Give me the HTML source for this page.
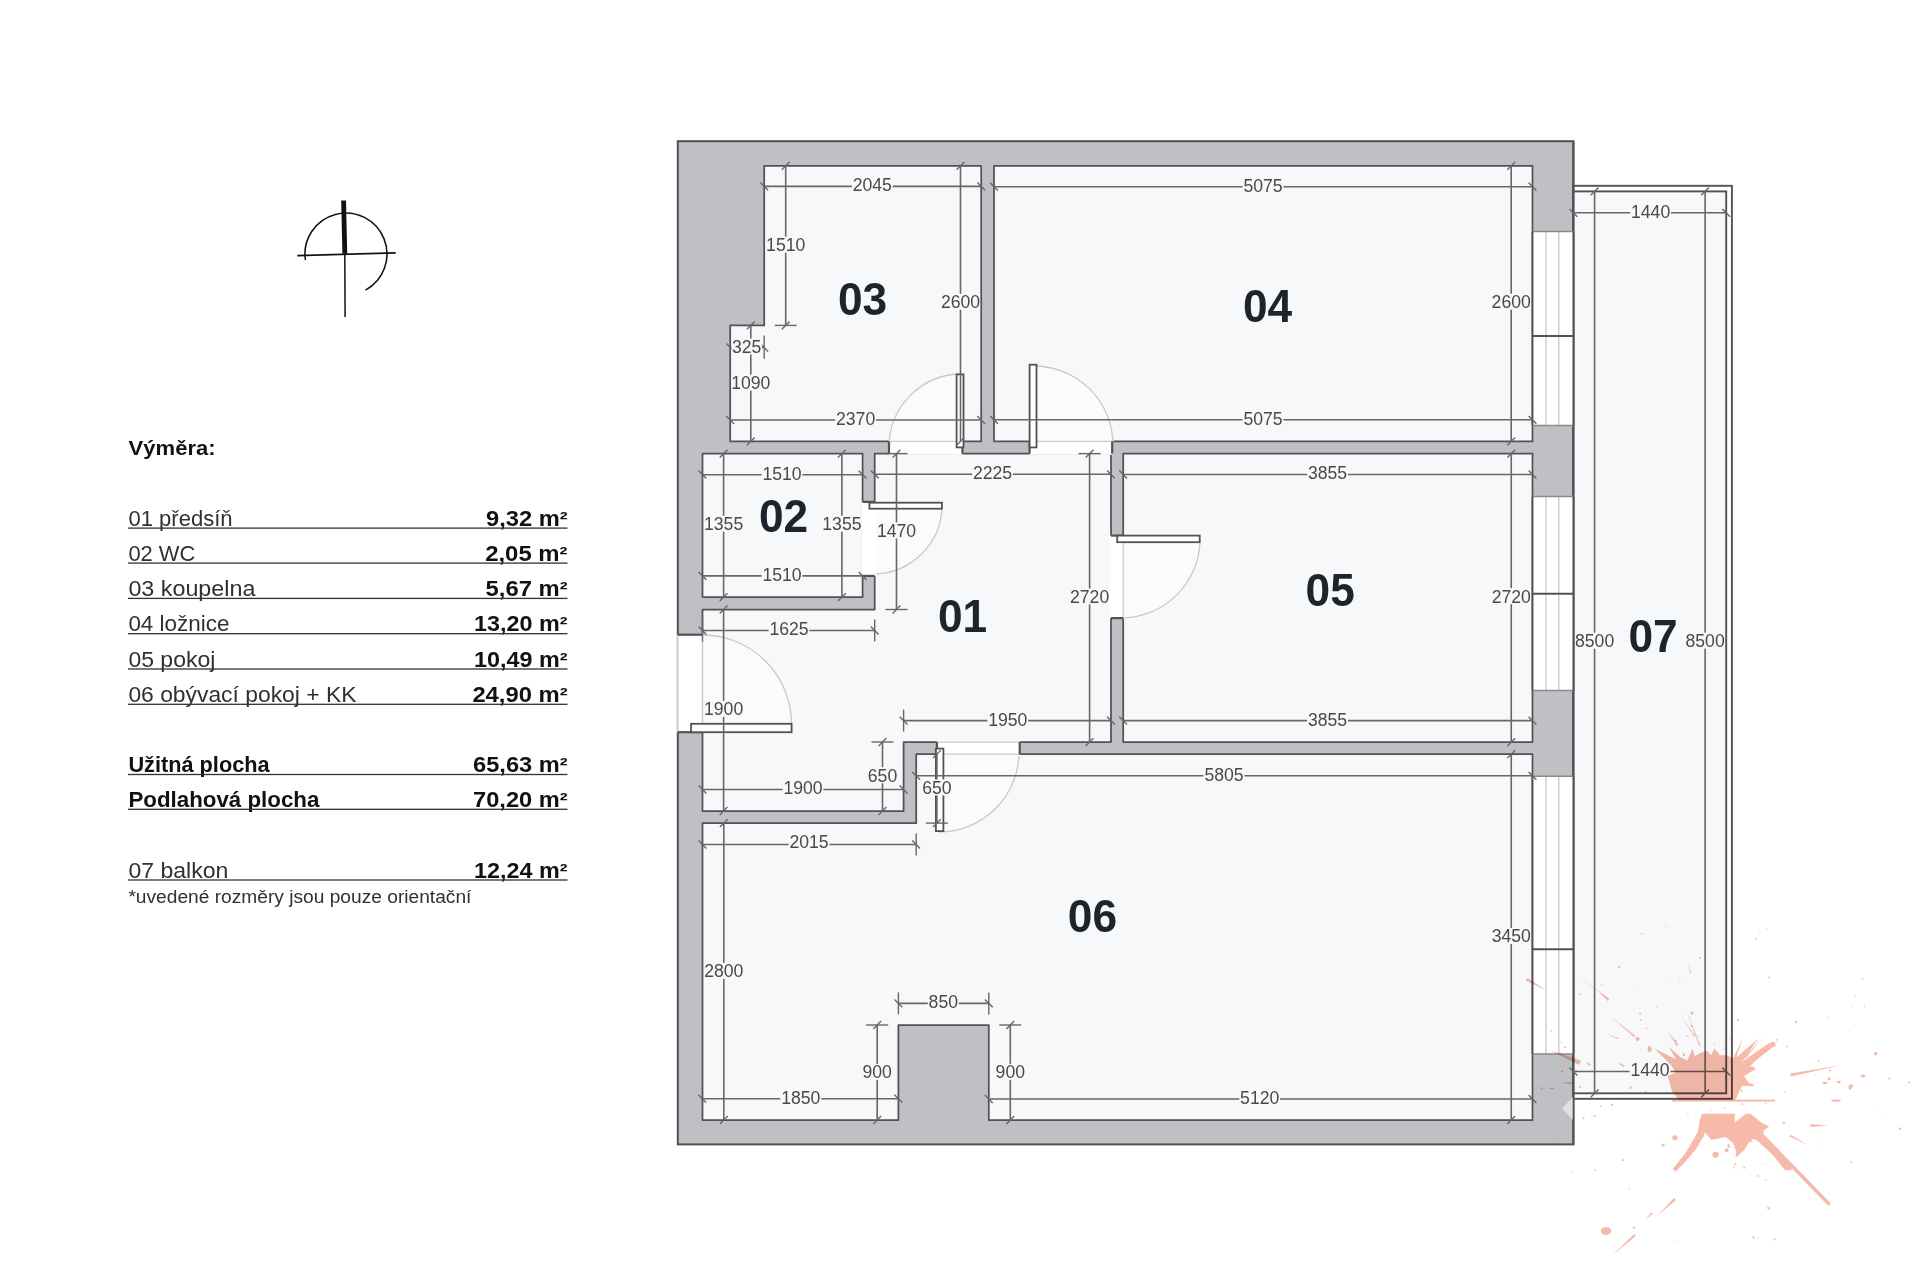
<!DOCTYPE html>
<html><head><meta charset="utf-8"><style>
html,body{margin:0;padding:0;background:#fff;}
body{width:1920px;height:1280px;overflow:hidden;position:relative;font-family:"Liberation Sans",sans-serif;}
svg{position:absolute;left:0;top:0;}
.t{position:absolute;left:128px;width:439px;color:#1a1a1a;font-size:21px;}
.row{position:absolute;left:128px;width:439px;height:2px;background:#2a2a2a;}
.l{position:absolute;left:128px;white-space:nowrap;font-size:21px;line-height:1;color:#1a1a1a;}
.r{position:absolute;right:1353px;white-space:nowrap;font-size:21px;line-height:1;font-weight:bold;color:#1a1a1a;}
.b{font-weight:bold;}
</style></head><body>
<svg width="1920" height="1280" viewBox="0 0 1920 1280" font-family="Liberation Sans, sans-serif">
<rect x="677.8" y="141.2" width="895.6" height="1003.2" fill="#bfc0c4" stroke="#505255" stroke-width="2.0"/>
<rect x="1573.4" y="185.8" width="158.5" height="913.0" fill="#ffffff" stroke="#505255" stroke-width="1.9"/>
<rect x="1573.4" y="191.4" width="152.8" height="901.9" fill="#f7f8fa" stroke="#505255" stroke-width="1.9"/>
<line x1="1573.4" y1="141.2" x2="1573.4" y2="1144.4" stroke="#505255" stroke-width="2.0"/>
<polygon points="764.2,165.8 981.2,165.8 981.2,441.4 730.2,441.4 730.2,325.4 764.2,325.4" fill="#f7f8fa" stroke="#505255" stroke-width="1.75" stroke-linejoin="round"/>
<polygon points="994,165.8 1532.5,165.8 1532.5,441.4 994,441.4" fill="#f7f8fa" stroke="#505255" stroke-width="1.75" stroke-linejoin="round"/>
<polygon points="702.5,453.6 862.6,453.6 862.6,597.1 702.5,597.1" fill="#f7f8fa" stroke="#505255" stroke-width="1.75" stroke-linejoin="round"/>
<polygon points="1123.2,453.6 1532.5,453.6 1532.5,742.1 1123.2,742.1" fill="#f7f8fa" stroke="#505255" stroke-width="1.75" stroke-linejoin="round"/>
<polygon points="874.7,453.6 1111,453.6 1111,742.1 903.6,742.1 903.6,811 702.5,811 702.5,609.5 874.7,609.5" fill="#f7f8fa" stroke="#505255" stroke-width="1.75" stroke-linejoin="round"/>
<polygon points="916.2,754.2 1532.5,754.2 1532.5,1120 988.8,1120 988.8,1025 898.4,1025 898.4,1120 702.5,1120 702.5,823.2 916.2,823.2" fill="#f7f8fa" stroke="#505255" stroke-width="1.75" stroke-linejoin="round"/>
<path d="M962,447 L889.00,447.00 A73,73 0 0 1 962.00,374.00 Z" fill="#fbfbfc" stroke="none"/>
<path d="M889.00,447.00 A73,73 0 0 1 962.00,374.00" fill="none" stroke="#c9c9c9" stroke-width="1.3"/>
<path d="M1034,445 L1034.00,366.00 A79,79 0 0 1 1113.00,445.00 Z" fill="#fbfbfc" stroke="none"/>
<path d="M1034.00,366.00 A79,79 0 0 1 1113.00,445.00" fill="none" stroke="#c9c9c9" stroke-width="1.3"/>
<path d="M873,505 L942.00,505.00 A69,69 0 0 1 873.00,574.00 Z" fill="#fbfbfc" stroke="none"/>
<path d="M942.00,505.00 A69,69 0 0 1 873.00,574.00" fill="none" stroke="#c9c9c9" stroke-width="1.3"/>
<path d="M1121,539 L1200.00,539.00 A79,79 0 0 1 1121.00,618.00 Z" fill="#fbfbfc" stroke="none"/>
<path d="M1200.00,539.00 A79,79 0 0 1 1121.00,618.00" fill="none" stroke="#c9c9c9" stroke-width="1.3"/>
<path d="M702.5,724 L702.50,635.00 A89,89 0 0 1 791.50,724.00 Z" fill="#fbfbfc" stroke="none"/>
<path d="M702.50,635.00 A89,89 0 0 1 791.50,724.00" fill="none" stroke="#c9c9c9" stroke-width="1.3"/>
<path d="M939,752 L1019.00,752.00 A80,80 0 0 1 939.00,832.00 Z" fill="#fbfbfc" stroke="none"/>
<path d="M1019.00,752.00 A80,80 0 0 1 939.00,832.00" fill="none" stroke="#c9c9c9" stroke-width="1.3"/>
<rect x="889" y="440.2" width="73.4" height="14.6" fill="#ffffff"/>
<line x1="889" y1="441.4" x2="956.6" y2="441.4" stroke="#c9c9c9" stroke-width="1.2"/>
<rect x="1029.6" y="440.2" width="82.6" height="14.6" fill="#ffffff"/>
<line x1="1036.5" y1="441.4" x2="1112.2" y2="441.4" stroke="#c9c9c9" stroke-width="1.2"/>
<rect x="861.4" y="501.9" width="14.5" height="74.0" fill="#ffffff"/>
<rect x="1109.8" y="535.6" width="14.6" height="82.5" fill="#ffffff"/>
<line x1="1123.2" y1="542.2" x2="1123.2" y2="618.1" stroke="#c9c9c9" stroke-width="1.2"/>
<rect x="676.5" y="634.7" width="27.2" height="97.5" fill="#ffffff"/>
<line x1="677.7" y1="634.7" x2="677.7" y2="732.2" stroke="#c9c9c9" stroke-width="1.5"/>
<line x1="702.5" y1="634.7" x2="702.5" y2="724" stroke="#c9c9c9" stroke-width="1.5"/>
<rect x="936.9" y="740.9" width="82.8" height="14.5" fill="#ffffff"/>
<line x1="936.9" y1="742.1" x2="1019.7" y2="742.1" stroke="#c9c9c9" stroke-width="1.2"/>
<line x1="943.4" y1="754.2" x2="1019.7" y2="754.2" stroke="#c9c9c9" stroke-width="1.2"/>
<line x1="889" y1="441.4" x2="889" y2="453.6" stroke="#505255" stroke-width="2.2"/>
<line x1="962.4" y1="441.4" x2="962.4" y2="453.6" stroke="#505255" stroke-width="2.2"/>
<line x1="1029.6" y1="441.4" x2="1029.6" y2="453.6" stroke="#505255" stroke-width="2.2"/>
<line x1="1112.2" y1="441.4" x2="1112.2" y2="453.6" stroke="#505255" stroke-width="2.2"/>
<line x1="862.6" y1="501.9" x2="874.7" y2="501.9" stroke="#505255" stroke-width="2.2"/>
<line x1="862.6" y1="575.9" x2="874.7" y2="575.9" stroke="#505255" stroke-width="2.2"/>
<line x1="1111" y1="535.6" x2="1123.2" y2="535.6" stroke="#505255" stroke-width="2.2"/>
<line x1="1111" y1="618.1" x2="1123.2" y2="618.1" stroke="#505255" stroke-width="2.2"/>
<line x1="677.7" y1="634.7" x2="702.5" y2="634.7" stroke="#505255" stroke-width="2.2"/>
<line x1="677.7" y1="732.2" x2="702.5" y2="732.2" stroke="#505255" stroke-width="2.2"/>
<line x1="936.9" y1="742.1" x2="936.9" y2="754.2" stroke="#505255" stroke-width="2.2"/>
<line x1="1019.7" y1="742.1" x2="1019.7" y2="754.2" stroke="#505255" stroke-width="2.2"/>
<rect x="1532.5" y="231.6" width="40.9" height="193.8" fill="#ffffff"/>
<line x1="1546.0" y1="231.6" x2="1546.0" y2="425.4" stroke="#c9c9c9" stroke-width="1.3"/>
<line x1="1558.8" y1="231.6" x2="1558.8" y2="425.4" stroke="#c9c9c9" stroke-width="1.3"/>
<line x1="1532.5" y1="231.6" x2="1573.4" y2="231.6" stroke="#8a8a8a" stroke-width="1.5"/>
<line x1="1532.5" y1="425.4" x2="1573.4" y2="425.4" stroke="#8a8a8a" stroke-width="1.5"/>
<line x1="1532.5" y1="336.1" x2="1573.4" y2="336.1" stroke="#505255" stroke-width="2"/>
<line x1="1532.5" y1="231.6" x2="1532.5" y2="425.4" stroke="#505255" stroke-width="1.9"/>
<line x1="1573.4" y1="231.6" x2="1573.4" y2="425.4" stroke="#505255" stroke-width="1.9"/>
<rect x="1532.5" y="496.6" width="40.9" height="193.9" fill="#ffffff"/>
<line x1="1546.0" y1="496.6" x2="1546.0" y2="690.5" stroke="#c9c9c9" stroke-width="1.3"/>
<line x1="1558.8" y1="496.6" x2="1558.8" y2="690.5" stroke="#c9c9c9" stroke-width="1.3"/>
<line x1="1532.5" y1="496.6" x2="1573.4" y2="496.6" stroke="#8a8a8a" stroke-width="1.5"/>
<line x1="1532.5" y1="690.5" x2="1573.4" y2="690.5" stroke="#8a8a8a" stroke-width="1.5"/>
<line x1="1532.5" y1="593.75" x2="1573.4" y2="593.75" stroke="#505255" stroke-width="2"/>
<line x1="1532.5" y1="496.6" x2="1532.5" y2="690.5" stroke="#505255" stroke-width="1.9"/>
<line x1="1573.4" y1="496.6" x2="1573.4" y2="690.5" stroke="#505255" stroke-width="1.9"/>
<rect x="1532.5" y="776.25" width="40.9" height="277.75" fill="#ffffff"/>
<line x1="1546.0" y1="776.25" x2="1546.0" y2="1054" stroke="#c9c9c9" stroke-width="1.3"/>
<line x1="1558.8" y1="776.25" x2="1558.8" y2="1054" stroke="#c9c9c9" stroke-width="1.3"/>
<line x1="1532.5" y1="776.25" x2="1573.4" y2="776.25" stroke="#8a8a8a" stroke-width="1.5"/>
<line x1="1532.5" y1="1054" x2="1573.4" y2="1054" stroke="#8a8a8a" stroke-width="1.5"/>
<line x1="1532.5" y1="949.25" x2="1573.4" y2="949.25" stroke="#505255" stroke-width="2"/>
<line x1="1532.5" y1="776.25" x2="1532.5" y2="1054" stroke="#505255" stroke-width="1.9"/>
<line x1="1573.4" y1="776.25" x2="1573.4" y2="1054" stroke="#505255" stroke-width="1.9"/>
<rect x="956.6" y="374.4" width="6.9" height="73.0" fill="#ffffff" stroke="#505255" stroke-width="1.8"/>
<rect x="1029.6" y="364.7" width="6.9" height="82.7" fill="#ffffff" stroke="#505255" stroke-width="1.8"/>
<rect x="869.4" y="502.7" width="72.5" height="6.0" fill="#ffffff" stroke="#505255" stroke-width="1.8"/>
<rect x="1117.2" y="535.6" width="82.5" height="6.6" fill="#ffffff" stroke="#505255" stroke-width="1.8"/>
<rect x="691.1" y="723.8" width="100.5" height="8.4" fill="#ffffff" stroke="#505255" stroke-width="1.8"/>
<rect x="935.9" y="748.6" width="7.5" height="82.5" fill="#ffffff" stroke="#505255" stroke-width="1.8"/>
<line x1="764.2" y1="186.4" x2="981.2" y2="186.4" stroke="#666769" stroke-width="1.6"/>
<line x1="760.3" y1="182.5" x2="768.1" y2="190.3" stroke="#666769" stroke-width="1.4"/>
<line x1="977.3" y1="182.5" x2="985.1" y2="190.3" stroke="#666769" stroke-width="1.4"/>
<rect x="851.9" y="176.8" width="40.8" height="16.0" fill="#f7f8fa"/>
<text x="872.3" y="191.30" font-size="18" text-anchor="middle" fill="#48494b" textLength="39.2" lengthAdjust="spacingAndGlyphs">2045</text>
<line x1="994" y1="186.7" x2="1532.5" y2="186.7" stroke="#666769" stroke-width="1.6"/>
<line x1="990.1" y1="182.8" x2="997.9" y2="190.6" stroke="#666769" stroke-width="1.4"/>
<line x1="1528.6" y1="182.8" x2="1536.4" y2="190.6" stroke="#666769" stroke-width="1.4"/>
<rect x="1242.6" y="177.1" width="40.8" height="16.0" fill="#f7f8fa"/>
<text x="1263" y="191.60" font-size="18" text-anchor="middle" fill="#48494b" textLength="39.2" lengthAdjust="spacingAndGlyphs">5075</text>
<line x1="1573.4" y1="212.8" x2="1726.2" y2="212.8" stroke="#666769" stroke-width="1.6"/>
<line x1="1569.5" y1="208.9" x2="1577.3" y2="216.7" stroke="#666769" stroke-width="1.4"/>
<line x1="1722.3" y1="208.9" x2="1730.1" y2="216.7" stroke="#666769" stroke-width="1.4"/>
<rect x="1630.2" y="203.2" width="40.8" height="16.0" fill="#f7f8fa"/>
<text x="1650.6" y="217.70" font-size="18" text-anchor="middle" fill="#48494b" textLength="39.2" lengthAdjust="spacingAndGlyphs">1440</text>
<line x1="730.2" y1="420" x2="981.2" y2="420" stroke="#666769" stroke-width="1.6"/>
<line x1="726.3" y1="416.1" x2="734.1" y2="423.9" stroke="#666769" stroke-width="1.4"/>
<line x1="977.3" y1="416.1" x2="985.1" y2="423.9" stroke="#666769" stroke-width="1.4"/>
<rect x="835.2" y="410.4" width="40.8" height="16.0" fill="#f7f8fa"/>
<text x="855.6" y="424.90" font-size="18" text-anchor="middle" fill="#48494b" textLength="39.2" lengthAdjust="spacingAndGlyphs">2370</text>
<line x1="994" y1="419.8" x2="1532.5" y2="419.8" stroke="#666769" stroke-width="1.6"/>
<line x1="990.1" y1="415.9" x2="997.9" y2="423.7" stroke="#666769" stroke-width="1.4"/>
<line x1="1528.6" y1="415.9" x2="1536.4" y2="423.7" stroke="#666769" stroke-width="1.4"/>
<rect x="1242.6" y="410.2" width="40.8" height="16.0" fill="#f7f8fa"/>
<text x="1263" y="424.70" font-size="18" text-anchor="middle" fill="#48494b" textLength="39.2" lengthAdjust="spacingAndGlyphs">5075</text>
<line x1="702.5" y1="474.7" x2="862.6" y2="474.7" stroke="#666769" stroke-width="1.6"/>
<line x1="698.6" y1="470.8" x2="706.4" y2="478.6" stroke="#666769" stroke-width="1.4"/>
<line x1="858.7" y1="470.8" x2="866.5" y2="478.6" stroke="#666769" stroke-width="1.4"/>
<rect x="761.6" y="465.1" width="40.8" height="16.0" fill="#f7f8fa"/>
<text x="782" y="479.60" font-size="18" text-anchor="middle" fill="#48494b" textLength="39.2" lengthAdjust="spacingAndGlyphs">1510</text>
<line x1="874.7" y1="474.3" x2="1111" y2="474.3" stroke="#666769" stroke-width="1.6"/>
<line x1="870.8" y1="470.4" x2="878.6" y2="478.2" stroke="#666769" stroke-width="1.4"/>
<line x1="1107.1" y1="470.4" x2="1114.9" y2="478.2" stroke="#666769" stroke-width="1.4"/>
<rect x="972.1" y="464.7" width="40.8" height="16.0" fill="#f7f8fa"/>
<text x="992.5" y="479.20" font-size="18" text-anchor="middle" fill="#48494b" textLength="39.2" lengthAdjust="spacingAndGlyphs">2225</text>
<line x1="1123.2" y1="474.5" x2="1532.5" y2="474.5" stroke="#666769" stroke-width="1.6"/>
<line x1="1119.3" y1="470.6" x2="1127.1" y2="478.4" stroke="#666769" stroke-width="1.4"/>
<line x1="1528.6" y1="470.6" x2="1536.4" y2="478.4" stroke="#666769" stroke-width="1.4"/>
<rect x="1307.1" y="464.9" width="40.8" height="16.0" fill="#f7f8fa"/>
<text x="1327.5" y="479.40" font-size="18" text-anchor="middle" fill="#48494b" textLength="39.2" lengthAdjust="spacingAndGlyphs">3855</text>
<line x1="702.5" y1="575.9" x2="862.6" y2="575.9" stroke="#666769" stroke-width="1.6"/>
<line x1="698.6" y1="572.0" x2="706.4" y2="579.8" stroke="#666769" stroke-width="1.4"/>
<line x1="858.7" y1="572.0" x2="866.5" y2="579.8" stroke="#666769" stroke-width="1.4"/>
<rect x="761.6" y="566.3" width="40.8" height="16.0" fill="#f7f8fa"/>
<text x="782" y="580.80" font-size="18" text-anchor="middle" fill="#48494b" textLength="39.2" lengthAdjust="spacingAndGlyphs">1510</text>
<line x1="702.5" y1="630.5" x2="874.7" y2="630.5" stroke="#666769" stroke-width="1.6"/>
<line x1="698.6" y1="626.6" x2="706.4" y2="634.4" stroke="#666769" stroke-width="1.4"/>
<line x1="870.8" y1="626.6" x2="878.6" y2="634.4" stroke="#666769" stroke-width="1.4"/>
<line x1="702.5" y1="619.5" x2="702.5" y2="641.5" stroke="#666769" stroke-width="1.4"/>
<line x1="874.7" y1="619.5" x2="874.7" y2="641.5" stroke="#666769" stroke-width="1.4"/>
<rect x="768.6" y="620.9" width="40.8" height="16.0" fill="#f7f8fa"/>
<text x="789" y="635.40" font-size="18" text-anchor="middle" fill="#48494b" textLength="39.2" lengthAdjust="spacingAndGlyphs">1625</text>
<line x1="903.6" y1="720.6" x2="1111" y2="720.6" stroke="#666769" stroke-width="1.6"/>
<line x1="899.7" y1="716.7" x2="907.5" y2="724.5" stroke="#666769" stroke-width="1.4"/>
<line x1="1107.1" y1="716.7" x2="1114.9" y2="724.5" stroke="#666769" stroke-width="1.4"/>
<line x1="903.6" y1="709.6" x2="903.6" y2="731.6" stroke="#666769" stroke-width="1.4"/>
<rect x="987.4" y="711.0" width="40.8" height="16.0" fill="#f7f8fa"/>
<text x="1007.8" y="725.50" font-size="18" text-anchor="middle" fill="#48494b" textLength="39.2" lengthAdjust="spacingAndGlyphs">1950</text>
<line x1="1123.2" y1="720.6" x2="1532.5" y2="720.6" stroke="#666769" stroke-width="1.6"/>
<line x1="1119.3" y1="716.7" x2="1127.1" y2="724.5" stroke="#666769" stroke-width="1.4"/>
<line x1="1528.6" y1="716.7" x2="1536.4" y2="724.5" stroke="#666769" stroke-width="1.4"/>
<rect x="1307.1" y="711.0" width="40.8" height="16.0" fill="#f7f8fa"/>
<text x="1327.5" y="725.50" font-size="18" text-anchor="middle" fill="#48494b" textLength="39.2" lengthAdjust="spacingAndGlyphs">3855</text>
<line x1="916.2" y1="775.8" x2="1532.5" y2="775.8" stroke="#666769" stroke-width="1.6"/>
<line x1="912.3" y1="771.9" x2="920.1" y2="779.7" stroke="#666769" stroke-width="1.4"/>
<line x1="1528.6" y1="771.9" x2="1536.4" y2="779.7" stroke="#666769" stroke-width="1.4"/>
<rect x="1203.6" y="766.2" width="40.8" height="16.0" fill="#f7f8fa"/>
<text x="1224" y="780.70" font-size="18" text-anchor="middle" fill="#48494b" textLength="39.2" lengthAdjust="spacingAndGlyphs">5805</text>
<line x1="702.5" y1="789.5" x2="903.6" y2="789.5" stroke="#666769" stroke-width="1.6"/>
<line x1="698.6" y1="785.6" x2="706.4" y2="793.4" stroke="#666769" stroke-width="1.4"/>
<line x1="899.7" y1="785.6" x2="907.5" y2="793.4" stroke="#666769" stroke-width="1.4"/>
<rect x="782.6" y="779.9" width="40.8" height="16.0" fill="#f7f8fa"/>
<text x="803" y="794.40" font-size="18" text-anchor="middle" fill="#48494b" textLength="39.2" lengthAdjust="spacingAndGlyphs">1900</text>
<line x1="702.5" y1="844.5" x2="916.2" y2="844.5" stroke="#666769" stroke-width="1.6"/>
<line x1="698.6" y1="840.6" x2="706.4" y2="848.4" stroke="#666769" stroke-width="1.4"/>
<line x1="912.3" y1="840.6" x2="920.1" y2="848.4" stroke="#666769" stroke-width="1.4"/>
<line x1="916.2" y1="833.5" x2="916.2" y2="855.5" stroke="#666769" stroke-width="1.4"/>
<rect x="788.6" y="833.2" width="40.8" height="16.0" fill="#f7f8fa"/>
<text x="809" y="847.70" font-size="18" text-anchor="middle" fill="#48494b" textLength="39.2" lengthAdjust="spacingAndGlyphs">2015</text>
<line x1="898.4" y1="1003.4" x2="988.8" y2="1003.4" stroke="#666769" stroke-width="1.6"/>
<line x1="894.5" y1="999.5" x2="902.3" y2="1007.3" stroke="#666769" stroke-width="1.4"/>
<line x1="984.9" y1="999.5" x2="992.7" y2="1007.3" stroke="#666769" stroke-width="1.4"/>
<line x1="898.4" y1="992.4" x2="898.4" y2="1014.4" stroke="#666769" stroke-width="1.4"/>
<line x1="988.8" y1="992.4" x2="988.8" y2="1014.4" stroke="#666769" stroke-width="1.4"/>
<rect x="927.8" y="993.8" width="31.0" height="16.0" fill="#f7f8fa"/>
<text x="943.3" y="1008.30" font-size="18" text-anchor="middle" fill="#48494b" textLength="29.4" lengthAdjust="spacingAndGlyphs">850</text>
<line x1="702.2" y1="1098.7" x2="898.4" y2="1098.7" stroke="#666769" stroke-width="1.6"/>
<line x1="698.3" y1="1094.8" x2="706.1" y2="1102.6" stroke="#666769" stroke-width="1.4"/>
<line x1="894.5" y1="1094.8" x2="902.3" y2="1102.6" stroke="#666769" stroke-width="1.4"/>
<rect x="780.4" y="1089.1" width="40.8" height="16.0" fill="#f7f8fa"/>
<text x="800.8" y="1103.60" font-size="18" text-anchor="middle" fill="#48494b" textLength="39.2" lengthAdjust="spacingAndGlyphs">1850</text>
<line x1="988.8" y1="1099" x2="1532.5" y2="1099" stroke="#666769" stroke-width="1.6"/>
<line x1="984.9" y1="1095.1" x2="992.7" y2="1102.9" stroke="#666769" stroke-width="1.4"/>
<line x1="1528.6" y1="1095.1" x2="1536.4" y2="1102.9" stroke="#666769" stroke-width="1.4"/>
<rect x="1239.3" y="1089.4" width="40.8" height="16.0" fill="#f7f8fa"/>
<text x="1259.7" y="1103.90" font-size="18" text-anchor="middle" fill="#48494b" textLength="39.2" lengthAdjust="spacingAndGlyphs">5120</text>
<line x1="1573.4" y1="1071.5" x2="1726.2" y2="1071.5" stroke="#666769" stroke-width="1.6"/>
<line x1="1569.5" y1="1067.6" x2="1577.3" y2="1075.4" stroke="#666769" stroke-width="1.4"/>
<line x1="1722.3" y1="1067.6" x2="1730.1" y2="1075.4" stroke="#666769" stroke-width="1.4"/>
<rect x="1629.6" y="1061.9" width="40.8" height="16.0" fill="#f7f8fa"/>
<text x="1650" y="1076.40" font-size="18" text-anchor="middle" fill="#48494b" textLength="39.2" lengthAdjust="spacingAndGlyphs">1440</text>
<line x1="785.7" y1="165.8" x2="785.7" y2="325.4" stroke="#666769" stroke-width="1.6"/>
<line x1="781.8" y1="169.7" x2="789.6" y2="161.9" stroke="#666769" stroke-width="1.4"/>
<line x1="781.8" y1="329.3" x2="789.6" y2="321.5" stroke="#666769" stroke-width="1.4"/>
<line x1="774.7" y1="325.4" x2="796.7" y2="325.4" stroke="#666769" stroke-width="1.4"/>
<rect x="766.1" y="236.7" width="39.2" height="16.0" fill="#f7f8fa"/>
<text x="785.7" y="251.20" font-size="18" text-anchor="middle" fill="#48494b" textLength="39.2" lengthAdjust="spacingAndGlyphs">1510</text>
<line x1="960.5" y1="165.8" x2="960.5" y2="441.4" stroke="#666769" stroke-width="1.6"/>
<line x1="956.6" y1="169.7" x2="964.4" y2="161.9" stroke="#666769" stroke-width="1.4"/>
<line x1="956.6" y1="445.3" x2="964.4" y2="437.5" stroke="#666769" stroke-width="1.4"/>
<rect x="940.9" y="293.8" width="39.2" height="16.0" fill="#f7f8fa"/>
<text x="960.5" y="308.30" font-size="18" text-anchor="middle" fill="#48494b" textLength="39.2" lengthAdjust="spacingAndGlyphs">2600</text>
<line x1="1511.2" y1="165.8" x2="1511.2" y2="441.4" stroke="#666769" stroke-width="1.6"/>
<line x1="1507.3" y1="169.7" x2="1515.1" y2="161.9" stroke="#666769" stroke-width="1.4"/>
<line x1="1507.3" y1="445.3" x2="1515.1" y2="437.5" stroke="#666769" stroke-width="1.4"/>
<rect x="1491.6" y="293.7" width="39.2" height="16.0" fill="#f7f8fa"/>
<text x="1511.2" y="308.20" font-size="18" text-anchor="middle" fill="#48494b" textLength="39.2" lengthAdjust="spacingAndGlyphs">2600</text>
<line x1="750.8" y1="325.4" x2="750.8" y2="441.4" stroke="#666769" stroke-width="1.6"/>
<line x1="746.9" y1="329.3" x2="754.7" y2="321.5" stroke="#666769" stroke-width="1.4"/>
<line x1="746.9" y1="445.3" x2="754.7" y2="437.5" stroke="#666769" stroke-width="1.4"/>
<rect x="731.2" y="374.6" width="39.2" height="16.0" fill="#f7f8fa"/>
<text x="750.8" y="389.10" font-size="18" text-anchor="middle" fill="#48494b" textLength="39.2" lengthAdjust="spacingAndGlyphs">1090</text>
<line x1="723.6" y1="453.6" x2="723.6" y2="597.1" stroke="#666769" stroke-width="1.6"/>
<line x1="719.7" y1="457.5" x2="727.5" y2="449.7" stroke="#666769" stroke-width="1.4"/>
<line x1="719.7" y1="601.0" x2="727.5" y2="593.2" stroke="#666769" stroke-width="1.4"/>
<rect x="704.0" y="515.7" width="39.2" height="16.0" fill="#f7f8fa"/>
<text x="723.6" y="530.20" font-size="18" text-anchor="middle" fill="#48494b" textLength="39.2" lengthAdjust="spacingAndGlyphs">1355</text>
<line x1="841.9" y1="453.6" x2="841.9" y2="597.1" stroke="#666769" stroke-width="1.6"/>
<line x1="838.0" y1="457.5" x2="845.8" y2="449.7" stroke="#666769" stroke-width="1.4"/>
<line x1="838.0" y1="601.0" x2="845.8" y2="593.2" stroke="#666769" stroke-width="1.4"/>
<rect x="822.3" y="515.7" width="39.2" height="16.0" fill="#f7f8fa"/>
<text x="841.9" y="530.20" font-size="18" text-anchor="middle" fill="#48494b" textLength="39.2" lengthAdjust="spacingAndGlyphs">1355</text>
<line x1="896.5" y1="453.6" x2="896.5" y2="609.5" stroke="#666769" stroke-width="1.6"/>
<line x1="892.6" y1="457.5" x2="900.4" y2="449.7" stroke="#666769" stroke-width="1.4"/>
<line x1="892.6" y1="613.4" x2="900.4" y2="605.6" stroke="#666769" stroke-width="1.4"/>
<line x1="885.5" y1="453.6" x2="907.5" y2="453.6" stroke="#666769" stroke-width="1.4"/>
<line x1="885.5" y1="609.5" x2="907.5" y2="609.5" stroke="#666769" stroke-width="1.4"/>
<rect x="876.9" y="522.5" width="39.2" height="16.0" fill="#f7f8fa"/>
<text x="896.5" y="537.00" font-size="18" text-anchor="middle" fill="#48494b" textLength="39.2" lengthAdjust="spacingAndGlyphs">1470</text>
<line x1="1089.6" y1="453.6" x2="1089.6" y2="742.1" stroke="#666769" stroke-width="1.6"/>
<line x1="1085.7" y1="457.5" x2="1093.5" y2="449.7" stroke="#666769" stroke-width="1.4"/>
<line x1="1085.7" y1="746.0" x2="1093.5" y2="738.2" stroke="#666769" stroke-width="1.4"/>
<line x1="1078.6" y1="453.6" x2="1100.6" y2="453.6" stroke="#666769" stroke-width="1.4"/>
<rect x="1070.0" y="588.5" width="39.2" height="16.0" fill="#f7f8fa"/>
<text x="1089.6" y="603.00" font-size="18" text-anchor="middle" fill="#48494b" textLength="39.2" lengthAdjust="spacingAndGlyphs">2720</text>
<line x1="1511.25" y1="453.6" x2="1511.25" y2="742.1" stroke="#666769" stroke-width="1.6"/>
<line x1="1507.35" y1="457.5" x2="1515.15" y2="449.7" stroke="#666769" stroke-width="1.4"/>
<line x1="1507.35" y1="746.0" x2="1515.15" y2="738.2" stroke="#666769" stroke-width="1.4"/>
<rect x="1491.65" y="588.2" width="39.2" height="16.0" fill="#f7f8fa"/>
<text x="1511.25" y="602.70" font-size="18" text-anchor="middle" fill="#48494b" textLength="39.2" lengthAdjust="spacingAndGlyphs">2720</text>
<line x1="723.6" y1="609.5" x2="723.6" y2="811" stroke="#666769" stroke-width="1.6"/>
<line x1="719.7" y1="613.4" x2="727.5" y2="605.6" stroke="#666769" stroke-width="1.4"/>
<line x1="719.7" y1="814.9" x2="727.5" y2="807.1" stroke="#666769" stroke-width="1.4"/>
<rect x="704.0" y="700.9" width="39.2" height="16.0" fill="#f7f8fa"/>
<text x="723.6" y="715.40" font-size="18" text-anchor="middle" fill="#48494b" textLength="39.2" lengthAdjust="spacingAndGlyphs">1900</text>
<line x1="882.5" y1="742" x2="882.5" y2="811" stroke="#666769" stroke-width="1.6"/>
<line x1="878.6" y1="745.9" x2="886.4" y2="738.1" stroke="#666769" stroke-width="1.4"/>
<line x1="878.6" y1="814.9" x2="886.4" y2="807.1" stroke="#666769" stroke-width="1.4"/>
<line x1="871.5" y1="742" x2="893.5" y2="742" stroke="#666769" stroke-width="1.4"/>
<rect x="867.8" y="767.2" width="29.4" height="16.0" fill="#f7f8fa"/>
<text x="882.5" y="781.70" font-size="18" text-anchor="middle" fill="#48494b" textLength="29.4" lengthAdjust="spacingAndGlyphs">650</text>
<line x1="936.9" y1="754.2" x2="936.9" y2="823.1" stroke="#666769" stroke-width="1.6"/>
<line x1="933.0" y1="758.1" x2="940.8" y2="750.3" stroke="#666769" stroke-width="1.4"/>
<line x1="933.0" y1="827.0" x2="940.8" y2="819.2" stroke="#666769" stroke-width="1.4"/>
<line x1="925.9" y1="823.1" x2="947.9" y2="823.1" stroke="#666769" stroke-width="1.4"/>
<rect x="922.2" y="779.4" width="29.4" height="16.0" fill="#f7f8fa"/>
<text x="936.9" y="793.90" font-size="18" text-anchor="middle" fill="#48494b" textLength="29.4" lengthAdjust="spacingAndGlyphs">650</text>
<line x1="723.8" y1="823.2" x2="723.8" y2="1120" stroke="#666769" stroke-width="1.6"/>
<line x1="719.9" y1="827.1" x2="727.7" y2="819.3" stroke="#666769" stroke-width="1.4"/>
<line x1="719.9" y1="1123.9" x2="727.7" y2="1116.1" stroke="#666769" stroke-width="1.4"/>
<rect x="704.2" y="962.9" width="39.2" height="16.0" fill="#f7f8fa"/>
<text x="723.8" y="977.40" font-size="18" text-anchor="middle" fill="#48494b" textLength="39.2" lengthAdjust="spacingAndGlyphs">2800</text>
<line x1="1511.25" y1="754.2" x2="1511.25" y2="1120" stroke="#666769" stroke-width="1.6"/>
<line x1="1507.35" y1="758.1" x2="1515.15" y2="750.3" stroke="#666769" stroke-width="1.4"/>
<line x1="1507.35" y1="1123.9" x2="1515.15" y2="1116.1" stroke="#666769" stroke-width="1.4"/>
<rect x="1491.65" y="927.9" width="39.2" height="16.0" fill="#f7f8fa"/>
<text x="1511.25" y="942.40" font-size="18" text-anchor="middle" fill="#48494b" textLength="39.2" lengthAdjust="spacingAndGlyphs">3450</text>
<line x1="877.2" y1="1025" x2="877.2" y2="1120" stroke="#666769" stroke-width="1.6"/>
<line x1="873.3" y1="1028.9" x2="881.1" y2="1021.1" stroke="#666769" stroke-width="1.4"/>
<line x1="873.3" y1="1123.9" x2="881.1" y2="1116.1" stroke="#666769" stroke-width="1.4"/>
<line x1="866.2" y1="1025" x2="888.2" y2="1025" stroke="#666769" stroke-width="1.4"/>
<rect x="862.5" y="1063.9" width="29.4" height="16.0" fill="#f7f8fa"/>
<text x="877.2" y="1078.40" font-size="18" text-anchor="middle" fill="#48494b" textLength="29.4" lengthAdjust="spacingAndGlyphs">900</text>
<line x1="1010.3" y1="1025" x2="1010.3" y2="1120" stroke="#666769" stroke-width="1.6"/>
<line x1="1006.4" y1="1028.9" x2="1014.2" y2="1021.1" stroke="#666769" stroke-width="1.4"/>
<line x1="1006.4" y1="1123.9" x2="1014.2" y2="1116.1" stroke="#666769" stroke-width="1.4"/>
<line x1="999.3" y1="1025" x2="1021.3" y2="1025" stroke="#666769" stroke-width="1.4"/>
<rect x="995.6" y="1063.9" width="29.4" height="16.0" fill="#f7f8fa"/>
<text x="1010.3" y="1078.40" font-size="18" text-anchor="middle" fill="#48494b" textLength="29.4" lengthAdjust="spacingAndGlyphs">900</text>
<line x1="1594.6" y1="191.4" x2="1594.6" y2="1093.3" stroke="#666769" stroke-width="1.6"/>
<line x1="1590.7" y1="195.3" x2="1598.5" y2="187.5" stroke="#666769" stroke-width="1.4"/>
<line x1="1590.7" y1="1097.2" x2="1598.5" y2="1089.4" stroke="#666769" stroke-width="1.4"/>
<rect x="1575.0" y="632.7" width="39.2" height="16.0" fill="#f7f8fa"/>
<text x="1594.6" y="647.20" font-size="18" text-anchor="middle" fill="#48494b" textLength="39.2" lengthAdjust="spacingAndGlyphs">8500</text>
<line x1="1705.1" y1="191.4" x2="1705.1" y2="1093.3" stroke="#666769" stroke-width="1.6"/>
<line x1="1701.2" y1="195.3" x2="1709.0" y2="187.5" stroke="#666769" stroke-width="1.4"/>
<line x1="1701.2" y1="1097.2" x2="1709.0" y2="1089.4" stroke="#666769" stroke-width="1.4"/>
<rect x="1685.5" y="632.7" width="39.2" height="16.0" fill="#f7f8fa"/>
<text x="1705.1" y="647.20" font-size="18" text-anchor="middle" fill="#48494b" textLength="39.2" lengthAdjust="spacingAndGlyphs">8500</text>
<line x1="730.2" y1="347.5" x2="764.2" y2="347.5" stroke="#666769" stroke-width="1.6"/>
<line x1="726.3" y1="343.6" x2="734.1" y2="351.4" stroke="#666769" stroke-width="1.4"/>
<line x1="760.3" y1="343.6" x2="768.1" y2="351.4" stroke="#666769" stroke-width="1.4"/>
<line x1="764.2" y1="335.5" x2="764.2" y2="358.7" stroke="#666769" stroke-width="1.4"/>
<rect x="731.5" y="338.5" width="30.4" height="16.0" fill="#f7f8fa"/>
<text x="746.7" y="353.00" font-size="18" text-anchor="middle" fill="#48494b" textLength="29.4" lengthAdjust="spacingAndGlyphs">325</text>
<text x="862.5" y="315.4" font-size="46" font-weight="bold" text-anchor="middle" fill="#1e242c" textLength="49.2" lengthAdjust="spacingAndGlyphs">03</text>
<text x="1267.6" y="321.9" font-size="46" font-weight="bold" text-anchor="middle" fill="#1e242c" textLength="49.2" lengthAdjust="spacingAndGlyphs">04</text>
<text x="783.6" y="532.0" font-size="46" font-weight="bold" text-anchor="middle" fill="#1e242c" textLength="49.2" lengthAdjust="spacingAndGlyphs">02</text>
<text x="962.5" y="632.2" font-size="46" font-weight="bold" text-anchor="middle" fill="#1e242c" textLength="49.2" lengthAdjust="spacingAndGlyphs">01</text>
<text x="1330.2" y="605.6" font-size="46" font-weight="bold" text-anchor="middle" fill="#1e242c" textLength="49.2" lengthAdjust="spacingAndGlyphs">05</text>
<text x="1092.4" y="932.3" font-size="46" font-weight="bold" text-anchor="middle" fill="#1e242c" textLength="49.2" lengthAdjust="spacingAndGlyphs">06</text>
<text x="1653" y="651.6" font-size="46" font-weight="bold" text-anchor="middle" fill="#1e242c" textLength="49.2" lengthAdjust="spacingAndGlyphs">07</text>
<text x="128.6" y="455.4" font-size="21" font-weight="bold" text-anchor="start" fill="#111" textLength="87" lengthAdjust="spacingAndGlyphs">Výměra:</text>
<text x="128.4" y="525.7" font-size="22" text-anchor="start" fill="#303030" textLength="104.2" lengthAdjust="spacingAndGlyphs">01 předsíň</text>
<text x="567.6" y="525.7" font-size="21.5" font-weight="bold" text-anchor="end" fill="#111" textLength="81.6" lengthAdjust="spacingAndGlyphs">9,32 m²</text>
<rect x="128" y="527.45" width="439.5" height="1.3" fill="#333"/>
<text x="128.4" y="560.7" font-size="22" text-anchor="start" fill="#303030" textLength="67" lengthAdjust="spacingAndGlyphs">02 WC</text>
<text x="567.6" y="560.7" font-size="21.5" font-weight="bold" text-anchor="end" fill="#111" textLength="82.4" lengthAdjust="spacingAndGlyphs">2,05 m²</text>
<rect x="128" y="562.45" width="439.5" height="1.3" fill="#333"/>
<text x="128.4" y="596.0" font-size="22" text-anchor="start" fill="#303030" textLength="127" lengthAdjust="spacingAndGlyphs">03 koupelna</text>
<text x="567.6" y="596.0" font-size="21.5" font-weight="bold" text-anchor="end" fill="#111" textLength="82" lengthAdjust="spacingAndGlyphs">5,67 m²</text>
<rect x="128" y="597.75" width="439.5" height="1.3" fill="#333"/>
<text x="128.4" y="631.3" font-size="22" text-anchor="start" fill="#303030" textLength="101" lengthAdjust="spacingAndGlyphs">04 ložnice</text>
<text x="567.6" y="631.3" font-size="21.5" font-weight="bold" text-anchor="end" fill="#111" textLength="93.5" lengthAdjust="spacingAndGlyphs">13,20 m²</text>
<rect x="128" y="633.05" width="439.5" height="1.3" fill="#333"/>
<text x="128.4" y="666.6" font-size="22" text-anchor="start" fill="#303030" textLength="87" lengthAdjust="spacingAndGlyphs">05 pokoj</text>
<text x="567.6" y="666.6" font-size="21.5" font-weight="bold" text-anchor="end" fill="#111" textLength="93.5" lengthAdjust="spacingAndGlyphs">10,49 m²</text>
<rect x="128" y="668.35" width="439.5" height="1.3" fill="#333"/>
<text x="128.4" y="701.9" font-size="22" text-anchor="start" fill="#303030" textLength="228" lengthAdjust="spacingAndGlyphs">06 obývací pokoj + KK</text>
<text x="567.6" y="701.9" font-size="21.5" font-weight="bold" text-anchor="end" fill="#111" textLength="95.2" lengthAdjust="spacingAndGlyphs">24,90 m²</text>
<rect x="128" y="703.65" width="439.5" height="1.3" fill="#333"/>
<text x="128.4" y="772.1" font-size="21.5" font-weight="bold" text-anchor="start" fill="#111" textLength="141.2" lengthAdjust="spacingAndGlyphs">Užitná plocha</text>
<text x="567.6" y="772.1" font-size="21.5" font-weight="bold" text-anchor="end" fill="#111" textLength="94.5" lengthAdjust="spacingAndGlyphs">65,63 m²</text>
<rect x="128" y="773.85" width="439.5" height="1.3" fill="#333"/>
<text x="128.4" y="806.9" font-size="21.5" font-weight="bold" text-anchor="start" fill="#111" textLength="191" lengthAdjust="spacingAndGlyphs">Podlahová plocha</text>
<text x="567.6" y="806.9" font-size="21.5" font-weight="bold" text-anchor="end" fill="#111" textLength="94.5" lengthAdjust="spacingAndGlyphs">70,20 m²</text>
<rect x="128" y="808.65" width="439.5" height="1.3" fill="#333"/>
<text x="128.4" y="877.6" font-size="22" text-anchor="start" fill="#303030" textLength="100" lengthAdjust="spacingAndGlyphs">07 balkon</text>
<text x="567.6" y="877.6" font-size="21.5" font-weight="bold" text-anchor="end" fill="#111" textLength="93.5" lengthAdjust="spacingAndGlyphs">12,24 m²</text>
<rect x="128" y="879.35" width="439.5" height="1.3" fill="#333"/>
<text x="128.4" y="902.9" font-size="17.5" text-anchor="start" fill="#303030" textLength="343" lengthAdjust="spacingAndGlyphs">*uvedené rozměry jsou pouze orientační</text>
<g stroke="#111" fill="none">
<line x1="343.6" y1="200.5" x2="344.8" y2="253.8" stroke-width="4.8"/>
<line x1="297.3" y1="255.6" x2="395.7" y2="252.9" stroke-width="1.6"/>
<line x1="344.8" y1="253.8" x2="345.1" y2="317.1" stroke-width="1.5"/>
<path d="M305.4,260 A41,41 0 1 1 365.5,290.1" stroke-width="1.55"/>
</g>
<g style="mix-blend-mode:multiply"><polygon points="1679.5,1101.1 1671.9,1091.2 1669.7,1082.5 1667.5,1075.9 1675.2,1072.7 1671.9,1066.1 1663.1,1057.3 1654.4,1048.6 1665.3,1054.1 1676.2,1059.5 1668.6,1046.4 1680.6,1057.3 1687.2,1060.6 1692.7,1048.6 1694.8,1056.2 1700.3,1053.0 1706.9,1050.8 1711.2,1055.2 1714.5,1048.6 1720.0,1055.2 1726.6,1055.2 1733.1,1058.4 1743.0,1037.7 1736.4,1057.3 1758.3,1038.7 1741.9,1061.7 1769.2,1043.1 1773.6,1044.2 1772.5,1047.5 1748.4,1066.1 1755.0,1067.2 1755.0,1069.4 1744.1,1075.9 1748.4,1082.5 1753.9,1084.7 1753.9,1086.3 1741.9,1085.8 1737.5,1095.6 1735.3,1100.0 1735.3,1101.1" fill="#f6baab"/><polygon points="1703.6,1113.7 1734.8,1113.7 1734.8,1126.2 1730.9,1128.4 1726.6,1125.2 1721.1,1126.2 1720.0,1120.8 1717.8,1123.0 1720.0,1128.4 1716.7,1135.0 1715.6,1139.4 1712.3,1138.3 1711.2,1135.0 1709.1,1136.1 1706.9,1132.8 1705.8,1126.2 1709.1,1121.9 1701.4,1116.4" fill="#f6baab"/><polygon points="1745.2,1113.7 1751.7,1113.7 1751.7,1117.5 1755.0,1123.0 1759.4,1121.9 1769.2,1126.2 1763.7,1130.6 1762.7,1136.1 1790.5,1170.0 1785.1,1170.5 1759.4,1138.3 1753.9,1136.1 1748.4,1131.7 1746.2,1128.4 1745.2,1123.0" fill="#f6baab"/><polygon points="1739.7,1140.5 1745.2,1142.7 1744.1,1148.1 1739.7,1151.4 1737.5,1156.9 1735.3,1155.8 1737.5,1148.1" fill="#f6baab"/><polygon points="1701.9,1114.0 1733.7,1114.0 1733.7,1123.3 1745.7,1114.0 1752.3,1115.3 1765.6,1125.9 1757.6,1131.2 1765.6,1141.9 1751.0,1138.7 1744.4,1149.8 1737.7,1155.7 1733.2,1143.2 1725.8,1137.1 1717.8,1138.7 1711.2,1139.7 1705.0,1132.6 1697.1,1147.7 1685.9,1161.0 1675.8,1171.6 1672.6,1169.0 1685.9,1152.5 1697.9,1131.8 1699.7,1120.6" fill="#f6baab"/><line x1="1756" y1="1129" x2="1828.5" y2="1203.5" stroke="#f6baab" stroke-width="3.6" stroke-linecap="round"/><line x1="1745" y1="1126" x2="1790" y2="1168" stroke="#f6baab" stroke-width="4.5" stroke-linecap="round"/><polygon points="1525.8,980.5 1546.2,990.6 1527.4,977.7" fill="#f6baab"/><polygon points="1609.5,998.9 1596.6,989.5 1607.7,1000.9" fill="#f6baab"/><polygon points="1596.8,989.2 1579.0,977.5 1596.4,989.8" fill="#f6baab"/><polygon points="1581.4,994.4 1576.9,992.3 1580.6,995.6" fill="#f6baab"/><polygon points="1581.0,1060.7 1549.0,1049.7 1579.2,1064.9" fill="#f6baab"/><polygon points="1572.5,1081.9 1560.5,1083.0 1572.5,1084.1" fill="#f6baab"/><polygon points="1553.9,1087.5 1548.4,1088.5 1553.9,1089.5" fill="#f6baab"/><polygon points="1590.8,1064.0 1586.0,1062.0 1589.2,1066.0" fill="#f6baab"/><polygon points="1624.4,1064.9 1617.3,1062.8 1623.4,1067.1" fill="#f6baab"/><polygon points="1635.3,1036.0 1608.6,1014.7 1634.3,1037.2" fill="#f6baab"/><polygon points="1618.6,1038.2 1605.3,1033.3 1618.2,1039.2" fill="#f6baab"/><polygon points="1678.3,1044.7 1667.6,1031.0 1676.7,1045.9" fill="#f6baab"/><polygon points="1695.5,1036.3 1680.8,1015.8 1694.5,1036.9" fill="#f6baab"/><polygon points="1691.1,973.0 1688.4,963.3 1690.1,973.2" fill="#f6baab"/><polygon points="1700.6,1045.8 1686.0,1010.0 1699.4,1046.2" fill="#f6baab"/><polygon points="1746.3,1069.5 1773.0,1044.4 1743.7,1066.5" fill="#f6baab"/><polygon points="1745.7,1058.6 1762.5,1037.5 1744.3,1057.4" fill="#f6baab"/><polygon points="1790.9,1076.4 1842.5,1065.0 1790.3,1073.6" fill="#f6baab"/><polygon points="1810.6,1127.1 1828.0,1125.6 1810.6,1124.1" fill="#f6baab"/><polygon points="1789.5,1136.5 1808.0,1145.0 1790.5,1134.7" fill="#f6baab"/><polygon points="1702.6,1134.2 1674.0,1170.0 1704.6,1135.8" fill="#f6baab"/><polygon points="1696.3,1143.4 1688.0,1154.0 1697.7,1144.6" fill="#f6baab"/><polygon points="1674.0,1197.9 1657.0,1216.0 1676.0,1200.1" fill="#f6baab"/><polygon points="1634.2,1234.1 1611.5,1256.0 1635.8,1235.9" fill="#f6baab"/><polygon points="1651.3,1212.3 1645.0,1220.0 1652.7,1213.7" fill="#f6baab"/><polygon points="1800.0,1170.0 1758.0,1133.0 1800.0,1170.0" fill="#f6baab"/><ellipse cx="1606.0" cy="1231.0" rx="5.3" ry="4" fill="#f6baab"/><ellipse cx="1637.5" cy="1039.0" rx="2" ry="2" fill="#f6baab"/><ellipse cx="1649.6" cy="1049.1" rx="2" ry="3" fill="#f6baab"/><ellipse cx="1773.0" cy="1044.4" rx="2.6" ry="2.6" fill="#f6baab"/><ellipse cx="1825.0" cy="1083.0" rx="2.6" ry="1.2" fill="#f6baab"/><ellipse cx="1838.8" cy="1082.0" rx="2" ry="1.2" fill="#f6baab"/><ellipse cx="1863.0" cy="1076.0" rx="2.4" ry="1.4" fill="#f6baab"/><ellipse cx="1829.0" cy="1078.8" rx="1.5" ry="1.5" fill="#f6baab"/><ellipse cx="1875.6" cy="1053.8" rx="1.8" ry="1.8" fill="#f6baab"/><ellipse cx="1675.0" cy="1137.7" rx="2.7" ry="2.5" fill="#f6baab"/><ellipse cx="1663.1" cy="1145.0" rx="1.6" ry="1.6" fill="#f6baab"/><ellipse cx="1715.6" cy="1154.7" rx="3.2" ry="3" fill="#f6baab"/><ellipse cx="1750.6" cy="1140.5" rx="1.6" ry="1.6" fill="#f6baab"/><ellipse cx="1726.6" cy="1150.3" rx="2" ry="2" fill="#f6baab"/><ellipse cx="1796.0" cy="1022.0" rx="1.2" ry="1.2" fill="#f6baab"/><ellipse cx="1692.0" cy="1013.0" rx="1.5" ry="1.5" fill="#f6baab"/><ellipse cx="1850.0" cy="1087.0" rx="1.6" ry="2.8" fill="#f6baab"/><ellipse cx="1852.0" cy="1086.0" rx="1" ry="2" fill="#f6baab"/><ellipse cx="1836.0" cy="1100.6" rx="5" ry="1.2" fill="#f6baab"/><rect x="1672" y="1099.6" width="103" height="2" fill="#f6baab"/><circle cx="1594.5" cy="1116.3" r="1.1" fill="#f6baab"/><circle cx="1600.6" cy="1106.1" r="0.9" fill="#f6baab"/><circle cx="1757.8" cy="1175.9" r="0.9" fill="#f6baab"/><circle cx="1723.6" cy="1048.8" r="0.6" fill="#f6baab"/><circle cx="1851.4" cy="1162.1" r="1.0" fill="#f6baab"/><circle cx="1900.3" cy="1128.8" r="1.2" fill="#f6baab"/><circle cx="1636.8" cy="990.8" r="0.5" fill="#f6baab"/><circle cx="1829.1" cy="1094.6" r="0.4" fill="#f6baab"/><circle cx="1737.2" cy="1140.2" r="0.4" fill="#f6baab"/><circle cx="1612.0" cy="1104.9" r="1.1" fill="#f6baab"/><circle cx="1576.3" cy="1070.9" r="0.8" fill="#f6baab"/><circle cx="1656.9" cy="1007.3" r="0.6" fill="#f6baab"/><circle cx="1909.2" cy="1082.5" r="1.1" fill="#f6baab"/><circle cx="1690.7" cy="1017.3" r="0.6" fill="#f6baab"/><circle cx="1702.4" cy="1118.1" r="1.0" fill="#f6baab"/><circle cx="1572.7" cy="1171.9" r="0.7" fill="#f6baab"/><circle cx="1878.0" cy="1046.3" r="0.4" fill="#f6baab"/><circle cx="1757.8" cy="1237.8" r="0.8" fill="#f6baab"/><circle cx="1806.5" cy="1074.9" r="0.5" fill="#f6baab"/><circle cx="1601.9" cy="984.4" r="0.6" fill="#f6baab"/><circle cx="1783.9" cy="1122.9" r="1.2" fill="#f6baab"/><circle cx="1714.4" cy="1043.9" r="0.6" fill="#f6baab"/><circle cx="1742.4" cy="1104.3" r="1.0" fill="#f6baab"/><circle cx="1765.9" cy="1180.3" r="0.8" fill="#f6baab"/><circle cx="1767.5" cy="1207.5" r="0.5" fill="#f6baab"/><circle cx="1682.7" cy="1052.9" r="0.7" fill="#f6baab"/><circle cx="1729.0" cy="1146.8" r="1.2" fill="#f6baab"/><circle cx="1738.1" cy="1020.3" r="1.1" fill="#f6baab"/><circle cx="1735.1" cy="1164.3" r="1.1" fill="#f6baab"/><circle cx="1684.0" cy="1055.0" r="1.2" fill="#f6baab"/><circle cx="1728.4" cy="1145.1" r="1.0" fill="#f6baab"/><circle cx="1674.9" cy="1144.3" r="0.5" fill="#f6baab"/><circle cx="1819.1" cy="1143.8" r="0.6" fill="#f6baab"/><circle cx="1638.9" cy="1038.4" r="0.8" fill="#f6baab"/><circle cx="1818.4" cy="1060.9" r="0.9" fill="#f6baab"/><circle cx="1751.2" cy="1047.3" r="0.5" fill="#f6baab"/><circle cx="1852.1" cy="1006.5" r="0.6" fill="#f6baab"/><circle cx="1768.7" cy="1208.3" r="1.2" fill="#f6baab"/><circle cx="1774.4" cy="1239.5" r="1.1" fill="#f6baab"/><circle cx="1632.9" cy="1033.0" r="0.5" fill="#f6baab"/><circle cx="1898.0" cy="1124.8" r="0.6" fill="#f6baab"/><circle cx="1691.9" cy="1025.9" r="1.1" fill="#f6baab"/><circle cx="1648.3" cy="1046.9" r="0.5" fill="#f6baab"/><circle cx="1704.7" cy="1051.7" r="0.6" fill="#f6baab"/><circle cx="1551.1" cy="1030.6" r="0.9" fill="#f6baab"/><circle cx="1677.3" cy="1241.0" r="0.6" fill="#f6baab"/><circle cx="1785.0" cy="1091.6" r="0.8" fill="#f6baab"/><circle cx="1765.4" cy="1103.4" r="0.7" fill="#f6baab"/><circle cx="1667.1" cy="1066.1" r="0.7" fill="#f6baab"/><circle cx="1862.7" cy="978.6" r="0.9" fill="#f6baab"/><circle cx="1666.1" cy="982.6" r="0.5" fill="#f6baab"/><circle cx="1741.8" cy="1090.8" r="1.1" fill="#f6baab"/><circle cx="1653.9" cy="927.3" r="0.4" fill="#f6baab"/><circle cx="1640.1" cy="1013.5" r="1.0" fill="#f6baab"/><circle cx="1629.0" cy="1240.1" r="0.5" fill="#f6baab"/><circle cx="1565.2" cy="1047.2" r="1.1" fill="#f6baab"/><circle cx="1700.0" cy="958.1" r="1.0" fill="#f6baab"/><circle cx="1787.3" cy="1046.5" r="0.9" fill="#f6baab"/><circle cx="1854.9" cy="996.3" r="0.7" fill="#f6baab"/><circle cx="1756.0" cy="939.0" r="0.9" fill="#f6baab"/><circle cx="1646.4" cy="1028.4" r="0.9" fill="#f6baab"/><circle cx="1680.1" cy="1062.5" r="0.9" fill="#f6baab"/><circle cx="1889.3" cy="1078.6" r="1.0" fill="#f6baab"/><circle cx="1595.2" cy="1170.1" r="0.9" fill="#f6baab"/><circle cx="1553.3" cy="1138.7" r="0.5" fill="#f6baab"/><circle cx="1712.0" cy="1056.9" r="0.9" fill="#f6baab"/><circle cx="1645.7" cy="1091.9" r="1.0" fill="#f6baab"/><circle cx="1579.7" cy="1087.0" r="1.1" fill="#f6baab"/><circle cx="1710.9" cy="1110.4" r="0.6" fill="#f6baab"/><circle cx="1684.9" cy="1036.8" r="0.5" fill="#f6baab"/><circle cx="1828.2" cy="1017.5" r="0.8" fill="#f6baab"/><circle cx="1776.7" cy="1039.8" r="0.9" fill="#f6baab"/><circle cx="1744.1" cy="1167.7" r="1.0" fill="#f6baab"/><circle cx="1864.4" cy="1006.3" r="0.7" fill="#f6baab"/><circle cx="1641.4" cy="1049.9" r="0.5" fill="#f6baab"/><circle cx="1541.8" cy="1088.3" r="1.1" fill="#f6baab"/><circle cx="1666.3" cy="926.2" r="0.6" fill="#f6baab"/><circle cx="1762.8" cy="1163.7" r="0.6" fill="#f6baab"/><circle cx="1733.9" cy="1167.6" r="0.9" fill="#f6baab"/><circle cx="1630.8" cy="1087.7" r="1.1" fill="#f6baab"/><circle cx="1816.0" cy="1074.8" r="0.5" fill="#f6baab"/><circle cx="1884.9" cy="1114.9" r="0.4" fill="#f6baab"/><circle cx="1679.9" cy="980.9" r="0.6" fill="#f6baab"/><circle cx="1719.9" cy="1059.3" r="0.5" fill="#f6baab"/><circle cx="1681.6" cy="1092.7" r="1.1" fill="#f6baab"/><circle cx="1716.1" cy="1129.4" r="0.4" fill="#f6baab"/><circle cx="1640.7" cy="1020.1" r="0.9" fill="#f6baab"/><circle cx="1619.2" cy="967.0" r="1.2" fill="#f6baab"/><circle cx="1687.4" cy="1036.3" r="0.8" fill="#f6baab"/><circle cx="1724.7" cy="1107.8" r="0.8" fill="#f6baab"/><circle cx="1699.0" cy="1036.1" r="0.6" fill="#f6baab"/><circle cx="1629.2" cy="1189.2" r="0.8" fill="#f6baab"/><circle cx="1594.3" cy="996.0" r="0.7" fill="#f6baab"/><circle cx="1759.4" cy="933.2" r="0.5" fill="#f6baab"/><circle cx="1849.4" cy="1031.5" r="0.5" fill="#f6baab"/><circle cx="1583.5" cy="1118.3" r="1.1" fill="#f6baab"/><circle cx="1623.0" cy="1160.2" r="1.1" fill="#f6baab"/><circle cx="1766.6" cy="929.2" r="0.8" fill="#f6baab"/><circle cx="1675.7" cy="1041.1" r="1.0" fill="#f6baab"/><circle cx="1769.0" cy="977.5" r="1.0" fill="#f6baab"/><circle cx="1753.4" cy="1237.1" r="1.2" fill="#f6baab"/><circle cx="1829.8" cy="1070.4" r="1.0" fill="#f6baab"/><circle cx="1633.8" cy="1227.6" r="1.1" fill="#f6baab"/><circle cx="1687.9" cy="1114.3" r="0.8" fill="#f6baab"/><circle cx="1561.4" cy="1042.5" r="0.8" fill="#f6baab"/><circle cx="1874.8" cy="1110.4" r="0.5" fill="#f6baab"/><circle cx="1729.6" cy="1038.2" r="0.7" fill="#f6baab"/><circle cx="1724.1" cy="1041.8" r="0.5" fill="#f6baab"/><circle cx="1561.9" cy="1071.5" r="1.1" fill="#f6baab"/><circle cx="1641.8" cy="933.7" r="0.8" fill="#f6baab"/></g><path d="M1573,1097 L1562,1108.5 L1573,1120 Z" fill="#ffffff" fill-opacity="0.5"/>
</svg>

</body></html>
